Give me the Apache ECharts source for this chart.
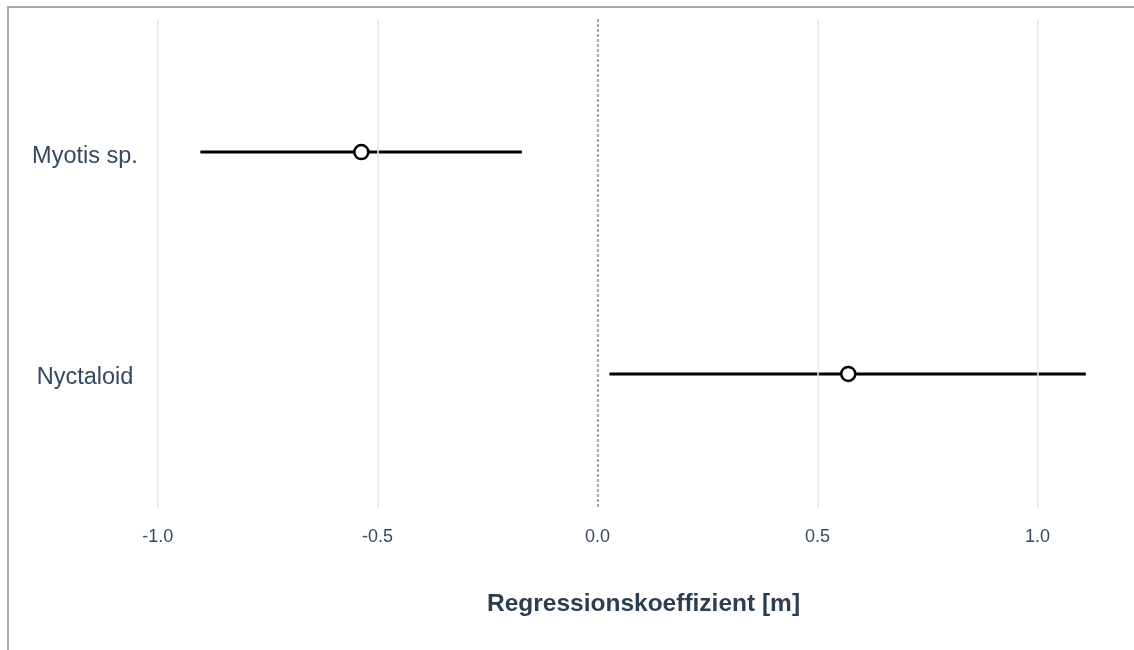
<!DOCTYPE html>
<html>
<head>
<meta charset="utf-8">
<style>
  html, body { margin: 0; padding: 0; background: #fff; }
  #frame {
    position: absolute; left: 7px; top: 6px; right: 0; bottom: 0;
    border-top: 2px solid #aaaaaa; border-left: 2px solid #aaaaaa;
  }
  #chart { position: absolute; left: 0; top: 0; width: 1134px; height: 650px; }
</style>
<script src="https://cdn.jsdelivr.net/npm/echarts@6/dist/echarts.min.js"></script>
</head>
<body>
<div id="frame"></div>
<div id="chart"></div>
<script>
// Regression coefficients with confidence intervals per bat group
const categories = ['Myotis sp.', 'Nyctaloid'];
const estimates = [-0.537, 0.570];
const lowerBounds = [-0.903, 0.027];
const upperBounds = [-0.172, 1.110];
const xTicks = [-1.0, -0.5, 0.0, 0.5, 1.0];
const xTitle = 'Regressionskoeffizient [m]';

const textColor = '#34495e';
const fontFamily = '"Liberation Sans", Arial, sans-serif';

// category k is placed at position k+1 on a numeric axis
const catPos = categories.map((c, i) => i + 1);

const intervals = categories.map((c, i) => [lowerBounds[i], upperBounds[i], catPos[i]]);
const points = categories.map((c, i) => [estimates[i], catPos[i]]);

const chart = echarts.init(document.getElementById('chart'), null, { renderer: 'canvas' });

chart.setOption({
  animation: false,
  backgroundColor: 'transparent',
  grid: { left: 157, right: 4, top: 19, bottom: 143, containLabel: false },
  xAxis: {
    type: 'value',
    min: -1.0015,
    max: 1.2105,
    name: xTitle,
    nameLocation: 'middle',
    nameGap: 85,
    nameTextStyle: { fontFamily, fontSize: 24.5, fontWeight: 'bold', color: '#2c3e50' },
    axisLine: { show: false },
    axisTick: { show: false },
    splitLine: { show: false },
    axisLabel: {
      customValues: xTicks,
      margin: 21,
      fontFamily, fontSize: 18, color: textColor,
      formatter: v => v.toFixed(1)
    }
  },
  yAxis: {
    type: 'value',
    min: 0.4,
    max: 2.6,
    inverse: true,
    axisLine: { show: false },
    axisTick: { show: false },
    splitLine: { show: false },
    axisLabel: {
      customValues: catPos,
      margin: 72,
      align: 'center',
      formatter: v => '{c|' + (categories[Math.round(v) - 1] || '') + '}',
      rich: {
        c: { fontFamily, fontSize: 23.5, color: textColor, padding: [8, 0, 0, 0] }
      }
    }
  },
  series: [
    {
      // vertical reference lines at the tick positions, dashed at zero
      type: 'line',
      data: [],
      silent: true,
      markLine: {
        symbol: 'none',
        silent: true,
        label: { show: false },
        data: xTicks.map(t => ({
          xAxis: t,
          lineStyle: t === 0
            ? { color: '#8a8a8a', width: 1.5, type: [3, 2] }
            : { color: '#e6e6e6', width: 1.5, type: 'solid' }
        }))
      },
      z: 1
    },
    {
      type: 'custom',
      data: intervals,
      renderItem: (params, api) => {
        const a = api.coord([api.value(0), api.value(2)]);
        const b = api.coord([api.value(1), api.value(2)]);
        return {
          type: 'line',
          shape: { x1: a[0], y1: a[1], x2: b[0], y2: b[1] },
          style: { stroke: '#000', lineWidth: 3 }
        };
      },
      encode: { x: [0, 1], y: 2 },
      z: 2
    },
    {
      type: 'scatter',
      data: points,
      symbol: 'circle',
      symbolSize: 14,
      itemStyle: { color: '#fff', borderColor: '#000', borderWidth: 2.5, opacity: 1 },
      z: 3
    }
  ]
});
</script>
</body>
</html>
